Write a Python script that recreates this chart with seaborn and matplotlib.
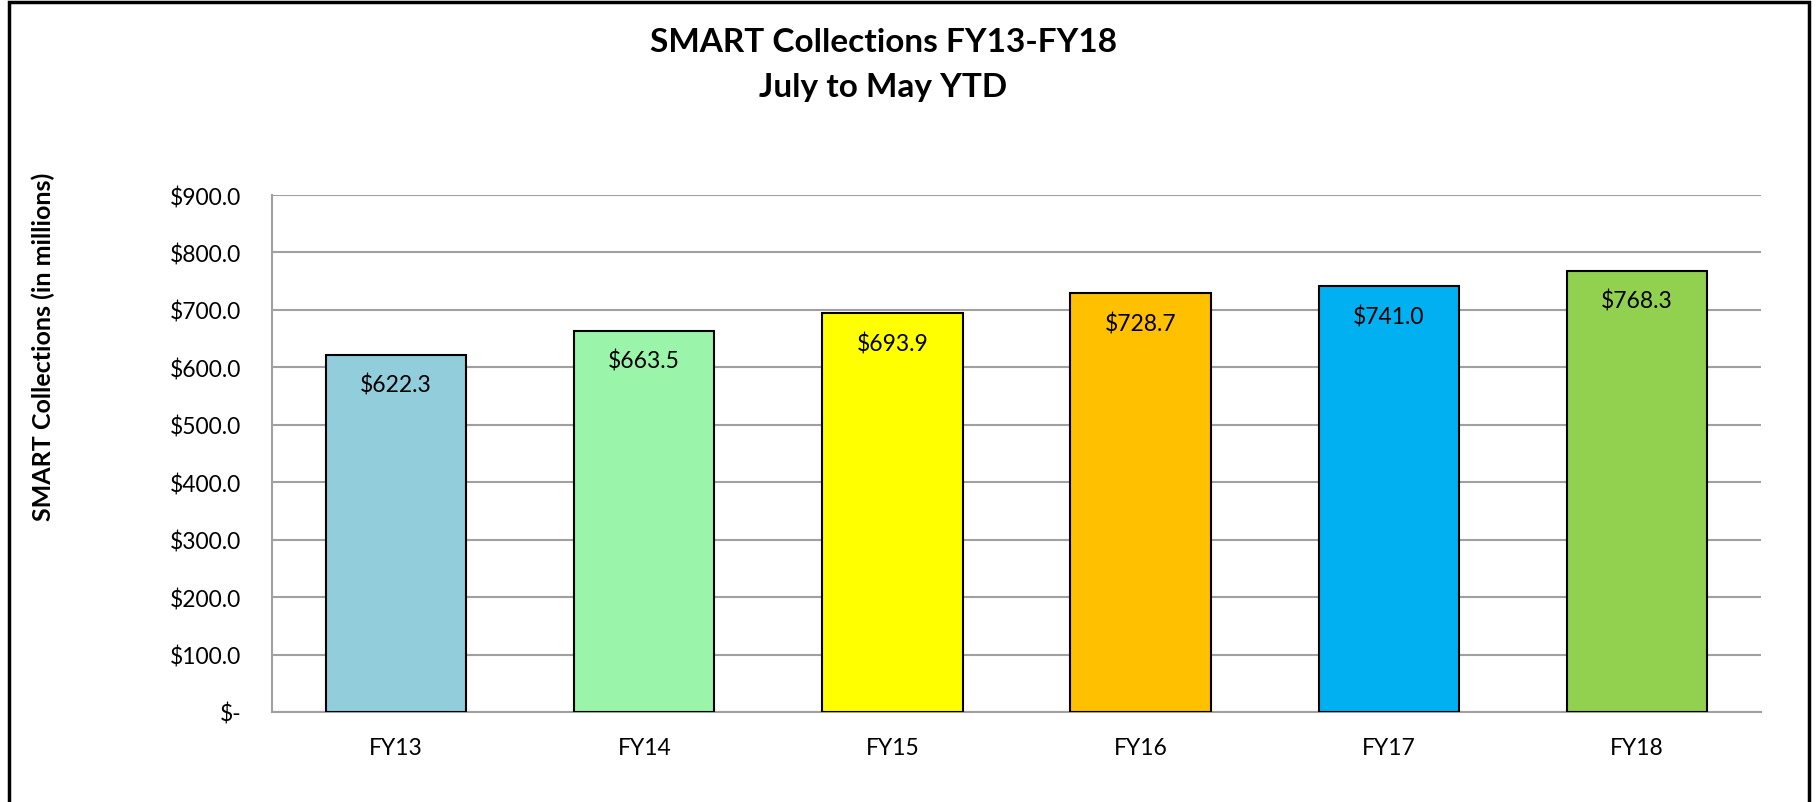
import matplotlib
matplotlib.use("Agg")
import matplotlib.pyplot as plt
import seaborn as sns
import pandas as pd
from matplotlib.patches import Rectangle
from matplotlib.ticker import FuncFormatter

categories = ["FY13", "FY14", "FY15", "FY16", "FY17", "FY18"]
values = [622.3, 663.5, 693.9, 728.7, 741.0, 768.3]
colors = ["#92CDDC", "#9AF5AA", "#FFFF00", "#FFC000", "#00B0F0", "#92D050"]
title_lines = ["SMART Collections FY13-FY18", "July to May YTD"]
ylabel = "SMART Collections (in millions)"

sns.set_theme(style="white")
plt.rcParams["font.family"] = ["Lato", "DejaVu Sans"]
plt.rcParams["text.color"] = "black"

df = pd.DataFrame({"cat": categories, "val": values})

fig = plt.figure(figsize=(18.18, 8.03), dpi=100)
ax = fig.add_axes([272/1818, 1-713/803, (1761-272)/1818, (713-196)/803])

sns.barplot(data=df, x="cat", y="val", hue="cat", palette=colors, dodge=False,
            legend=False, width=0.565, edgecolor="black", linewidth=1.5,
            saturation=1, ax=ax, zorder=3)

ax.set_ylim(0, 900)
ax.set_yticks(range(0, 901, 100))
ax.yaxis.set_major_formatter(FuncFormatter(lambda v, p: "$-" if v == 0 else f"${v:.1f}"))
ax.grid(axis="y", color="#A0A0A0", linewidth=1.5, zorder=0)
ax.set_axisbelow(True)
for s in ["top", "right"]:
    ax.spines[s].set_visible(False)
for s in ["left", "bottom"]:
    ax.spines[s].set_color("#A0A0A0")
    ax.spines[s].set_linewidth(1.5)
ax.tick_params(axis="y", length=0, pad=22, labelsize=16.5, labelcolor="black")
ax.tick_params(axis="x", length=0, pad=18, labelsize=16.5, labelcolor="black")
ax.set_xlabel("")
ax.set_ylabel("")

for bar, v in zip(ax.patches, values):
    ax.annotate(f"${v:.1f}", xy=(bar.get_x() + bar.get_width()/2, bar.get_height()),
                xytext=(0, -21.5), textcoords="offset points",
                ha="center", va="center", fontsize=16.5, color="black", zorder=5)

fig.text(883/1818, 1-43/803, title_lines[0], ha="center", va="center",
         fontsize=24, fontweight="bold", color="black")
fig.text(883/1818, 1-88/803, title_lines[1], ha="center", va="center",
         fontsize=24, fontweight="bold", color="black")
fig.text(43/1818, 1-347/803, ylabel, ha="center", va="center", rotation=90,
         fontsize=18, fontweight="bold", color="black")

fig.patches.append(Rectangle((9/1818, -0.05), (1809-9)/1818, 1.05 - 3/803,
                             transform=fig.transFigure, fill=False,
                             edgecolor="black", linewidth=2.5))

fig.savefig("out.png", dpi=100)
